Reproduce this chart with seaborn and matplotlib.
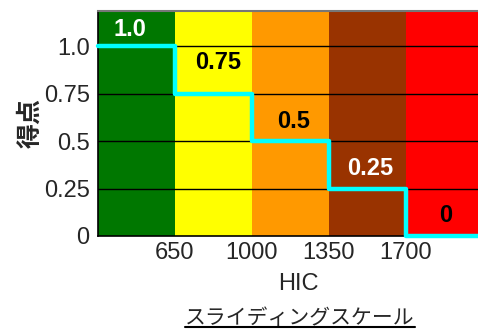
# -*- coding: utf-8 -*-
import matplotlib
matplotlib.use('Agg')
import matplotlib.pyplot as plt
from matplotlib.lines import Line2D
import pandas as pd
import seaborn as sns

# HIC band edges and the score given in each band
edges = [300, 650, 1000, 1350, 1700, 2030]
scores = [1.0, 0.75, 0.5, 0.25, 0]
band_colors = ['#007700', '#FFFF00', '#FF9900', '#993300', '#FF0000']
score_labels = ['1.0', '0.75', '0.5', '0.25', '0']
label_colors = ['white', 'black', 'black', 'white', 'black']
label_x = [446, 848, 1190, 1541, 1883]
label_y = [1.09, 0.915, 0.605, 0.358, 0.11]
xticks = [650, 1000, 1350, 1700]
yticks = [0, 0.25, 0.5, 0.75, 1.0]
ytick_labels = ['0', '0.25', '0.5', '0.75', '1.0']

sns.set_style('white')
plt.rcParams['font.family'] = ['Liberation Sans', 'Noto Sans CJK JP', 'DejaVu Sans']

fig = plt.figure(figsize=(4.78, 3.34), dpi=100)
ax = fig.add_axes([98 / 478, 1 - 236 / 334, 380 / 478, 225 / 334])

for i in range(len(scores)):
    ax.axvspan(edges[i], edges[i + 1], color=band_colors[i], lw=0, zorder=0)

for v in yticks[1:]:
    ax.axhline(v, color='black', lw=1, zorder=1)

step = pd.DataFrame({'HIC': edges, 'score': scores + [scores[-1]]})
sns.lineplot(data=step, x='HIC', y='score', drawstyle='steps-post',
             color='#00FFFF', lw=3.2, ax=ax, zorder=3, clip_on=False)

for x, y, s, c in zip(label_x, label_y, score_labels, label_colors):
    ax.text(x, y, s, color=c, fontsize=17, fontweight='bold',
            ha='center', va='center', zorder=4)

ax.set_xlim(edges[0], edges[-1])
ax.set_ylim(0, 1.185)
ax.set_xticks(xticks)
ax.set_xticklabels([str(t) for t in xticks], fontsize=17)
ax.set_yticks(yticks)
ax.set_yticklabels(ytick_labels, fontsize=17)
ax.tick_params(axis='x', direction='in', length=3, pad=4, color='black')
ax.tick_params(axis='y', length=0, pad=6)
ax.set_xlabel('')
ax.set_ylabel('得点', fontsize=18, fontweight='bold',
              family=['Noto Sans CJK JP'], labelpad=1)

for side in ['left', 'bottom']:
    ax.spines[side].set_color('black')
    ax.spines[side].set_linewidth(1.2)
ax.spines['top'].set_color('#777777')
ax.spines['top'].set_linewidth(1.5)
ax.spines['right'].set_visible(False)

fig.text(298 / 478, 1 - 284 / 334, 'HIC', fontsize=17, ha='center', va='center')
t = fig.text(300 / 478, 1 - 318 / 334, 'スライディングスケール', fontsize=15,
             ha='center', va='center', family=['Noto Sans CJK JP'])

# underline the caption
fig.canvas.draw()
bb = t.get_window_extent().transformed(fig.transFigure.inverted())
fig.add_artist(Line2D([bb.x0, bb.x1], [bb.y0 + 0.005, bb.y0 + 0.005],
                      color='black', lw=1.5, transform=fig.transFigure))

fig.savefig('out.png', dpi=100)
